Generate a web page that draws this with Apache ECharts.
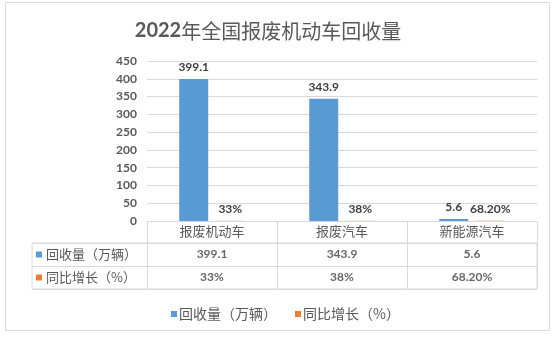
<!DOCTYPE html>
<html>
<head>
<meta charset="utf-8">
<script src="https://cdn.jsdelivr.net/npm/echarts@6/dist/echarts.min.js"></script>
<style>
  html, body { margin: 0; padding: 0; background: #fff; }
  #chart { width: 556px; height: 339px; }
</style>
</head>
<body>
<div id="chart"></div>
<script>
// Vehicle types
const categories = ['报废机动车', '报废汽车', '新能源汽车'];
// Recovered volume, 10k vehicles
const recovery = [399.1, 343.9, 5.6];
// Year-on-year growth, as fractions
const growth = [0.33, 0.38, 0.682];
// Series / table row names
const seriesNames = ['回收量（万辆）', '同比增长（%）'];
// Value axis ticks
const yTicks = { min: 0, max: 450, step: 50 };

const BLUE = '#5B9BD5';
const ORANGE = '#ED7D31';
const GRID = '#D9D9D9';
const TEXT = '#595959';
const FONT = 'Lato, "Noto Sans CJK SC", sans-serif';

function pct(v) {
  const p = Math.round(v * 10000) / 100;
  return (Number.isInteger(p) ? String(p) : p.toFixed(2)) + '%';
}
function num(v) { return String(v); }

const chart = echarts.init(document.getElementById('chart'), null, { renderer: 'canvas' });

const cellLabel = {
  show: true,
  position: 'inside',
  color: '#404040',
  fontFamily: FONT,
  fontWeight: 'bold',
  fontSize: 12
};

chart.setOption({
  backgroundColor: '#fff',
  animation: false,
  textStyle: { fontFamily: FONT },
  title: {
    text: '{n|2022}{c|年全国报废机动车回收量}',
    left: 263,
    top: 16,
    textAlign: 'center',
    textStyle: {
      rich: {
        n: { fontFamily: FONT, fontWeight: 'bold', fontSize: 20, color: TEXT },
        c: { fontFamily: '"Noto Sans CJK SC", sans-serif', fontWeight: 'normal', fontSize: 20, color: TEXT }
      }
    }
  },
  graphic: [{
    type: 'rect',
    silent: true,
    shape: { x: 5.5, y: 2.5, width: 544, height: 328 },
    style: { fill: 'none', stroke: GRID, lineWidth: 1 }
  }],
  legend: {
    data: seriesNames,
    left: 166,
    top: 302,
    icon: 'rect',
    itemWidth: 6,
    itemHeight: 6,
    itemGap: 18,
    textStyle: { color: TEXT, fontSize: 14, fontFamily: '"Noto Sans CJK SC", sans-serif', padding: [0, 0, 0, -3] }
  },
  grid: [
    // plot area
    { left: 147, right: 19, top: 61, height: 160 },
    // data table frame (row headers + value cells)
    { left: 32, right: 19, top: 243, height: 46, show: true, borderColor: GRID, borderWidth: 1, backgroundColor: 'transparent' },
    // data table value cells
    { left: 147, right: 19, top: 243, height: 46 }
  ],
  xAxis: [
    {
      gridIndex: 0,
      type: 'category',
      data: categories,
      axisLine: { show: true, lineStyle: { color: GRID } },
      axisTick: { show: true, length: 68, lineStyle: { color: GRID } },
      axisLabel: { color: TEXT, fontSize: 13, margin: 4, fontFamily: '"Noto Sans CJK SC", sans-serif' }
    },
    { gridIndex: 1, type: 'value', show: false, min: 0, max: 1 },
    { gridIndex: 2, type: 'category', data: categories, show: false }
  ],
  yAxis: [
    {
      gridIndex: 0,
      type: 'value',
      min: yTicks.min,
      max: yTicks.max,
      interval: yTicks.step,
      axisLine: { show: false },
      axisTick: { show: false },
      splitLine: { lineStyle: { color: GRID } },
      axisLabel: { color: TEXT, fontSize: 12, fontWeight: 'bold', margin: 10, fontFamily: FONT }
    },
    {
      gridIndex: 1,
      type: 'category',
      data: seriesNames,
      inverse: true,
      axisLine: { show: false },
      axisTick: { show: false },
      splitLine: { show: true, lineStyle: { color: GRID } },
      axisLabel: {
        inside: true,
        margin: 4,
        align: 'left',
        formatter: (v, i) => '{s' + i + '|}{t|' + v + '}',
        rich: {
          s0: { width: 6, height: 6, backgroundColor: BLUE },
          s1: { width: 6, height: 6, backgroundColor: ORANGE },
          t: { color: TEXT, fontSize: 13, padding: [0, 0, 0, 4], fontFamily: '"Noto Sans CJK SC", sans-serif' }
        }
      }
    },
    { gridIndex: 2, type: 'category', data: seriesNames, inverse: true, show: false }
  ],
  series: [
    {
      name: seriesNames[0],
      type: 'bar',
      xAxisIndex: 0,
      yAxisIndex: 0,
      data: recovery,
      barWidth: 29,
      barGap: '26%',
      itemStyle: { color: BLUE },
      label: {
        show: true, position: 'top', distance: 6,
        color: '#404040', fontWeight: 'bold', fontSize: 12, fontFamily: FONT,
        formatter: p => num(p.value)
      }
    },
    {
      name: seriesNames[1],
      type: 'bar',
      xAxisIndex: 0,
      yAxisIndex: 0,
      data: growth,
      barWidth: 29,
      barGap: '26%',
      itemStyle: { color: ORANGE },
      label: {
        show: true, position: 'top', distance: 6,
        color: '#404040', fontWeight: 'bold', fontSize: 12, fontFamily: FONT,
        formatter: p => pct(p.value)
      }
    },
    {
      name: 'table-' + seriesNames[0],
      type: 'scatter',
      xAxisIndex: 2,
      yAxisIndex: 2,
      symbolSize: 0,
      silent: true,
      data: categories.map((c, i) => [c, seriesNames[0], recovery[i]]),
      label: Object.assign({}, cellLabel, { formatter: p => num(p.value[2]) })
    },
    {
      name: 'table-' + seriesNames[1],
      type: 'scatter',
      xAxisIndex: 2,
      yAxisIndex: 2,
      symbolSize: 0,
      silent: true,
      data: categories.map((c, i) => [c, seriesNames[1], growth[i]]),
      label: Object.assign({}, cellLabel, { formatter: p => pct(p.value[2]) })
    }
  ]
});
</script>
</body>
</html>
